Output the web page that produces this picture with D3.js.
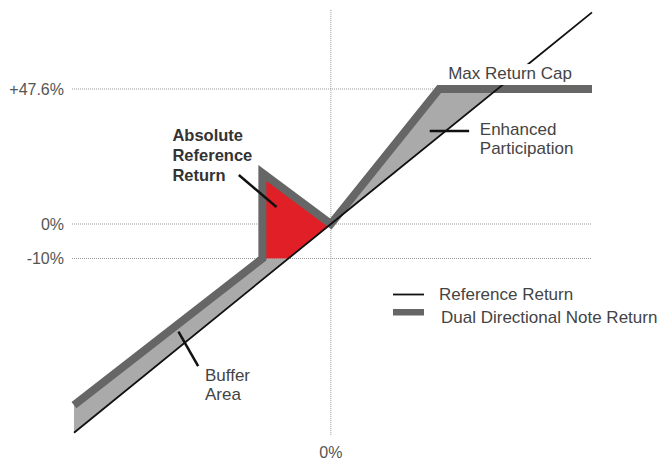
<!DOCTYPE html>
<html>
<head>
<meta charset="utf-8">
<script src="https://cdn.jsdelivr.net/npm/d3@7"></script>
<style>
  body { margin: 0; background: #fff; }
  svg { display: block; font-family: "Liberation Sans", Arial, sans-serif; }
  .tick-label { font-size: 16px; fill: #555; }
  .grid { stroke: #999; stroke-width: 1; stroke-dasharray: 1,1; }
  .annotation { font-size: 17px; fill: #444; }
  .annotation.bold { font-weight: bold; fill: #333; font-size: 16.5px; }
  .leader { stroke: #111; stroke-width: 2.5; }
</style>
</head>
<body>
<div id="chart"></div>
<script>
// Tick values and labels
const yTicks = [-10, 0, 47.6];
const yTickLabels = ['-10%', '0%', '+47.6%'];
const xTicks = [0];
const xTickLabels = ['0%'];

// Payoff lines (reference return in %, note return in %)
const referenceReturn = [[-60, -60.5], [0, 0], [61, 74.6]];
const noteReturn = [[-60, -52.5], [-16, -10], [-16, 18], [0, 0], [25.3, 47.6], [61, 47.6]];

// Shaded regions between the two lines
const bufferArea = [[-60, -52.5], [-16, -10], [-10, -10], [0, 0], [-60, -60.5]];
const absoluteArea = [[-16, -10], [-16, 18], [0, 0], [-10, -10]];
const enhancedArea = [[0, 0], [25.3, 47.6], [38.9, 47.6]];

const legendItems = ['Reference Return', 'Dual Directional Note Return'];

class PayoffChart {

  constructor(_config) {
    this.config = {
      parentElement: _config.parentElement,
      containerWidth: _config.containerWidth || 660,
      containerHeight: _config.containerHeight || 460
    }
    this.initVis();
  }

  initVis() {
    let vis = this;

    vis.xScale = d3.scaleLinear()
        .domain([-60, 61])
        .range([74, 592]);

    // schematic payoff chart: the y axis is stretched differently above and below zero
    vis.yScale = d3.scaleLinear()
        .domain([-10, 0, 47.6])
        .range([258.5, 224, 89]);

    vis.svg = d3.select(vis.config.parentElement).append('svg')
        .attr('width', vis.config.containerWidth)
        .attr('height', vis.config.containerHeight);

    vis.line = d3.line()
        .x(d => vis.xScale(d[0]))
        .y(d => vis.yScale(d[1]));
  }

  renderVis() {
    let vis = this;
    const x = vis.xScale, y = vis.yScale;
    const [x0, x1] = x.range();

    // Gridlines
    vis.svg.selectAll('.grid-h')
        .data(yTicks)
        .join('line')
        .attr('class', 'grid grid-h')
        .attr('x1', x0 - 2)
        .attr('x2', d => d === 47.6 ? x(noteReturn[4][0]) : x1)
        .attr('y1', d => y(d))
        .attr('y2', d => y(d));

    vis.svg.selectAll('.grid-v')
        .data(xTicks)
        .join('line')
        .attr('class', 'grid grid-v')
        .attr('x1', d => x(d))
        .attr('x2', d => x(d))
        .attr('y1', y(75.5))
        .attr('y2', y(-61.5));

    // Tick labels
    vis.svg.selectAll('.y-label')
        .data(yTicks)
        .join('text')
        .attr('class', 'tick-label y-label')
        .attr('x', x0 - 10)
        .attr('y', d => y(d))
        .attr('dy', '0.35em')
        .attr('text-anchor', 'end')
        .text((d, i) => yTickLabels[i]);

    vis.svg.selectAll('.x-label')
        .data(xTicks)
        .join('text')
        .attr('class', 'tick-label x-label')
        .attr('x', d => x(d))
        .attr('y', 458)
        .attr('text-anchor', 'middle')
        .text((d, i) => xTickLabels[i]);

    // Shaded areas
    vis.svg.append('path')
        .attr('d', vis.line(bufferArea) + 'Z')
        .attr('fill', '#aaa');
    vis.svg.append('path')
        .attr('d', vis.line(enhancedArea) + 'Z')
        .attr('fill', '#aaa');
    vis.svg.append('path')
        .attr('d', vis.line(absoluteArea) + 'Z')
        .attr('fill', '#e01f27');

    // Note return (thick) and reference return (thin)
    vis.svg.append('path')
        .attr('d', vis.line(noteReturn))
        .attr('fill', 'none')
        .attr('stroke', '#666')
        .attr('stroke-width', 8)
        .attr('stroke-linejoin', 'miter');

    vis.svg.append('path')
        .attr('d', vis.line(referenceReturn))
        .attr('fill', 'none')
        .attr('stroke', '#111')
        .attr('stroke-width', 1.8);

    // Annotations
    const capLabel = vis.svg.append('text')
        .attr('class', 'annotation')
        .attr('x', x(27.4))
        .attr('y', y(51.1))
        .text('Max Return Cap');
    const bb = capLabel.node().getBBox();
    vis.svg.insert('rect', 'text.annotation')
        .attr('x', bb.x - 2)
        .attr('y', bb.y)
        .attr('width', bb.width + 4)
        .attr('height', y(47.6) - 4 - bb.y)
        .attr('fill', '#fff');

    const absLabel = vis.svg.append('text')
        .attr('class', 'annotation bold')
        .attr('x', x(-37))
        .attr('y', y(29.2));
    absLabel.selectAll('tspan')
        .data(['Absolute', 'Reference', 'Return'])
        .join('tspan')
        .attr('x', x(-37))
        .attr('dy', (d, i) => i === 0 ? 0 : 20)
        .text(d => d);

    vis.svg.append('line')
        .attr('class', 'leader')
        .attr('x1', x(-21.5)).attr('y1', y(17.3))
        .attr('x2', x(-12.7)).attr('y2', y(6.0));

    const enhLabel = vis.svg.append('text')
        .attr('class', 'annotation')
        .attr('y', y(31.4));
    enhLabel.selectAll('tspan')
        .data(['Enhanced', 'Participation'])
        .join('tspan')
        .attr('x', x(34.8))
        .attr('dy', (d, i) => i === 0 ? 0 : 19)
        .text(d => d);

    vis.svg.append('line')
        .attr('class', 'leader')
        .attr('x1', x(23.1)).attr('y1', y(32.8))
        .attr('x2', x(32.3)).attr('y2', y(32.8));

    const bufLabel = vis.svg.append('text')
        .attr('class', 'annotation')
        .attr('y', y(-45.4));
    bufLabel.selectAll('tspan')
        .data(['Buffer', 'Area'])
        .join('tspan')
        .attr('x', x(-29.4))
        .attr('dy', (d, i) => i === 0 ? 0 : 19)
        .text(d => d);

    vis.svg.append('line')
        .attr('class', 'leader')
        .attr('x1', x(-35.6)).attr('y1', y(-31.2))
        .attr('x2', x(-31.0)).attr('y2', y(-41.2));

    // Legend
    const legend = vis.svg.append('g')
        .attr('transform', 'translate(393,294.5)');

    legend.append('line')
        .attr('x1', 0).attr('x2', 31)
        .attr('stroke', '#111')
        .attr('stroke-width', 1.8);
    legend.append('rect')
        .attr('x', 0).attr('y', 14.5)
        .attr('width', 31).attr('height', 6.5)
        .attr('fill', '#666');

    legend.selectAll('.legend-label')
        .data(legendItems)
        .join('text')
        .attr('class', 'annotation legend-label')
        .attr('x', (d, i) => i === 0 ? 46 : 48)
        .attr('y', (d, i) => i * 23)
        .attr('dy', '0.35em')
        .text(d => d);
  }
}

const chart = new PayoffChart({ parentElement: '#chart' });
chart.renderVis();
</script>
</body>
</html>
